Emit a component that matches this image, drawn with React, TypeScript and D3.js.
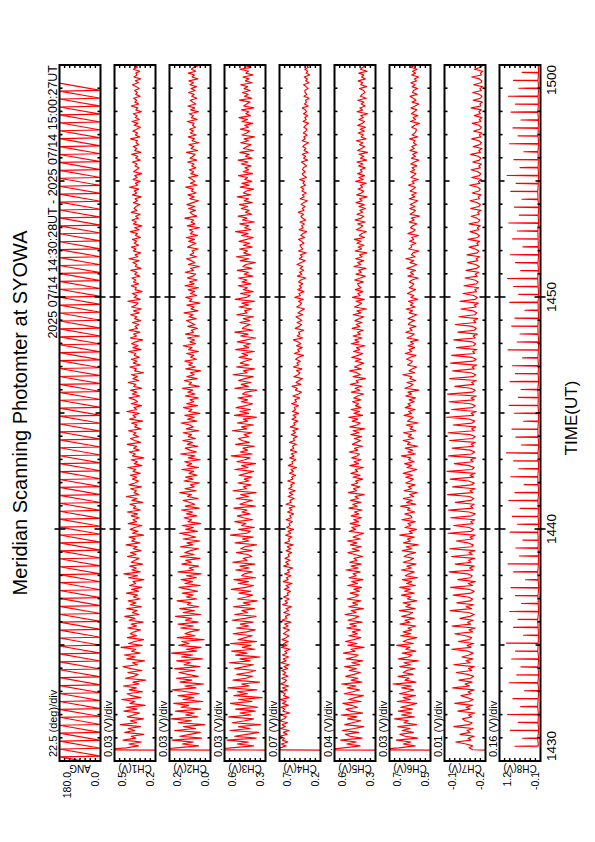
import React from 'react';
import * as d3 from 'd3';

const TITLE = 'Meridian Scanning Photomter at SYOWA';
const SUBTITLE = '2025 07/14 14:30:28UT - 2025 07/14 15:00:27UT';
const X_TITLE = 'TIME(UT)';

// time axis in minutes of day
const T_START = 870; // 14:30
const T_END = 900; // 15:00
const DATA_START = 870 + 28 / 60;
const SAMPLE_SEC = 5;
const SWEEP_SEC = 20.5;
const ANG_RISE_SEC = 18.5;

const timeTickValues = [870, 880, 890, 900];
const timeTickLabels = ['1430', '1440', '1450', '1500'];

const channelNames = ['ANG', 'CH1(V)', 'CH2(V)', 'CH3(V)', 'CH4(V)', 'CH5(V)', 'CH6(V)', 'CH7(V)', 'CH8(V)'];
const divLabels = ['22.5 (deg)/div', '0.03 (V)/div', '0.03 (V)/div', '0.03 (V)/div', '0.07 (V)/div', '0.04 (V)/div', '0.03 (V)/div', '0.01 (V)/div', '0.16 (V)/div'];
// domains: ANG in deg, channels in mV
const yLo = [0, 230, 0, 340, 170, 280, 480, -190, -80];
const yHi = [180, 470, 240, 580, 730, 600, 720, -110, 1200];
const yHiLabels = ['180.0', '0.5', '0.2', '0.6', '0.7', '0.6', '0.7', '-0.1', '1.2'];
const yLoLabels = ['0.0', '0.2', '0.0', '0.3', '0.2', '0.3', '0.5', '-0.2', '-0.1'];

// first two samples of each noise channel (mV)
const startA = [150, -80, 260, 90, 200, 400, -200];
const startB = [550, 320, 660, 810, 680, 800, -165];

// scan angle: start / end of each sweep
const ang = [
  0, 180, 0, 180, 0, 180, 0, 180, 0, 180, 0, 180, 0, 180, 0, 180, 0, 180, 0, 180,
  0, 180, 0, 180, 0, 180, 0, 180, 0, 180, 0, 180, 0, 180, 0, 180, 0, 180, 0, 180,
  0, 180, 0, 180, 0, 180, 0, 180, 0, 180, 0, 180, 0, 180, 0, 180, 0, 180, 0, 180,
  0, 180, 0, 180, 0, 180, 0, 180, 0, 180, 0, 180, 0, 180, 0, 180, 0, 180, 0, 180,
  0, 180, 0, 180, 0, 180, 0, 180, 0, 180, 0, 180, 0, 180, 0, 180, 0, 180, 0, 180,
  0, 180, 0, 180, 0, 180, 0, 180, 0, 180, 0, 180, 0, 180, 0, 180, 0, 180, 0, 180,
  0, 180, 0, 180, 0, 180, 0, 180, 0, 180, 0, 180, 0, 180, 0, 180, 0, 180, 0, 180,
  0, 180, 0, 180, 0, 180, 0, 180, 0, 180, 0, 180, 0, 180, 0, 180, 0, 180, 0, 180,
  0, 180, 0, 180, 0, 180, 0, 180, 0, 180, 0, 180,
];

const ch1 = [
  400, 330, 385, 312, 420, 345, 372, 298, 410, 352, 390, 318, 436, 340, 378, 300, 395, 360, 322, 415,
  338, 402, 290, 380, 350, 428, 315, 371, 396, 305, 384, 342, 418, 326, 362, 288, 406, 355, 332, 392,
  310, 375, 420, 336, 365, 294, 398, 348, 412, 320, 370, 345, 432, 308, 388, 352, 300, 395, 340, 378,
  355, 318, 392, 340, 372, 302, 385, 350, 410, 326, 366, 338, 398, 312, 378, 345, 390, 320, 360, 335,
  400, 328, 370, 310, 382, 346, 362, 298, 388, 335, 415, 320, 368, 342, 380, 306, 372, 350, 326, 394,
  344, 376, 315, 360, 338, 402, 322, 370, 348, 385, 300, 366, 332, 378, 352, 310, 390, 340, 362, 325,
  372, 335, 395, 318, 360, 345, 380, 305, 368, 338, 400, 328, 356, 342, 375, 312, 385, 350, 330, 365,
  340, 378, 320, 362, 345, 392, 310, 355, 336, 372, 298, 366, 348, 384, 325, 358, 340, 395, 318, 352,
  376, 330, 360, 344, 388, 315, 352, 338, 370, 305, 382, 346, 362, 325, 398, 340, 356, 312, 372, 335,
  350, 385, 322, 366, 340, 375, 310, 358, 345, 390, 328, 362, 336, 370, 300, 352, 342, 380, 318, 360,
  338, 372, 325, 355, 345, 388, 315, 362, 332, 370, 348, 305, 378, 340, 358, 322, 385, 336, 350, 328,
  365, 318, 352, 340, 375, 326, 358, 312, 370, 345, 332, 392, 320, 355, 338, 366, 308, 350, 342, 372,
  330, 358, 345, 368, 322, 352, 338, 375, 315, 348, 340, 362, 326, 385, 334, 350, 318, 360, 344, 370,
  328, 355, 340, 365, 318, 348, 336, 378, 325, 352, 310, 360, 342, 368, 330, 346, 320, 372, 338, 355,
  345, 322, 360, 336, 350, 314, 366, 340, 355, 328, 382, 334, 348, 320, 362, 338, 352, 310, 358, 342,
  326, 350, 338, 365, 320, 346, 334, 370, 316, 352, 340, 360, 328, 344, 336, 376, 322, 348, 335, 362,
  340, 318, 355, 332, 368, 325, 348, 338, 360, 312, 345, 334, 372, 328, 350, 340, 358, 320, 346, 336,
  352, 326, 342, 365, 330, 348, 318, 356, 338, 345, 322, 360, 336, 350, 328, 368, 334, 346, 325, 355,
];

const ch2 = [
  200, 70, 165, 100, 225, 52, 180, 120, 60, 210, 88, 158, 35, 190, 112, 230, 75, 146, 95, 205,
  58, 172, 128, 215, 45, 160, 98, 190, 66, 140, 222, 85, 150, 40, 178, 110, 200, 72, 132, 185,
  92, 210, 62, 155, 118, 198, 48, 170, 104, 228, 80, 142, 55, 186, 125, 168, 38, 195, 90, 150,
  120, 65, 175, 100, 190, 72, 148, 110, 205, 58, 160, 95, 180, 68, 135, 115, 196, 80, 142, 102,
  165, 75, 130, 185, 60, 150, 105, 172, 82, 140, 55, 190, 98, 125, 70, 168, 112, 146, 62, 178,
  96, 150, 118, 70, 176, 104, 138, 62, 160, 88, 128, 182, 76, 145, 100, 166, 58, 132, 110, 155,
  80, 140, 104, 170, 66, 148, 92, 125, 160, 72, 135, 112, 180, 84, 150, 96, 118, 64, 156, 102,
  145, 78, 126, 98, 168, 70, 138, 110, 152, 60, 130, 92, 175, 82, 120, 148, 74, 136, 106, 162,
  88, 130, 112, 160, 68, 142, 100, 122, 172, 80, 135, 95, 150, 62, 128, 108, 158, 76, 140, 98,
  120, 72, 148, 90, 132, 104, 165, 66, 126, 112, 154, 78, 138, 96, 118, 58, 145, 88, 128, 106,
  150, 82, 116, 98, 140, 70, 128, 108, 160, 86, 120, 94, 135, 64, 146, 100, 112, 76, 132, 92,
  118, 140, 84, 126, 102, 155, 74, 114, 96, 138, 62, 124, 108, 145, 80, 118, 92, 130, 70, 150,
  96, 122, 78, 136, 104, 88, 148, 100, 116, 66, 130, 92, 112, 140, 82, 120, 98, 108, 72, 134,
  110, 86, 128, 94, 142, 76, 118, 102, 124, 64, 136, 90, 114, 98, 150, 80, 106, 120, 88, 128,
  92, 138, 104, 70, 122, 96, 132, 84, 112, 100, 145, 78, 118, 92, 106, 128, 74, 116, 98, 124,
  86, 110, 96, 134, 80, 120, 102, 90, 140, 76, 114, 98, 126, 68, 108, 94, 130, 84, 118, 100,
  122, 88, 106, 96, 136, 78, 112, 100, 124, 70, 116, 92, 132, 86, 104, 118, 80, 110, 96, 128,
  90, 114, 82, 120, 100, 126, 74, 108, 94, 130, 86, 112, 98, 68, 118, 92, 124, 80, 104, 96,
];

const ch3 = [
  540, 410, 505, 440, 565, 395, 520, 450, 380, 548, 430, 498, 370, 535, 460, 410, 555, 425, 490, 400,
  515, 385, 470, 545, 420, 498, 360, 525, 445, 505, 390, 560, 435, 480, 375, 530, 455, 415, 508, 440,
  398, 520, 462, 410, 552, 430, 490, 372, 515, 448, 538, 402, 476, 425, 545, 392, 500, 458, 418, 530,
  450, 400, 510, 438, 488, 412, 535, 460, 395, 520, 445, 478, 405, 528, 430, 470, 388, 505, 452, 415,
  495, 425, 540, 455, 410, 500, 440, 525, 398, 480, 462, 418, 515, 435, 490, 402, 532, 448, 470, 420,
  445, 510, 420, 485, 460, 392, 518, 438, 475, 412, 545, 450, 428, 498, 405, 480, 455, 520, 415, 470,
  505, 430, 478, 448, 525, 400, 490, 458, 418, 512, 440, 485, 395, 530, 452, 470, 425, 502, 438, 465,
  420, 495, 452, 410, 520, 442, 480, 398, 508, 462, 430, 540, 418, 488, 445, 472, 405, 515, 435, 478,
  498, 440, 465, 420, 535, 450, 480, 410, 505, 445, 470, 392, 522, 438, 490, 428, 512, 455, 415, 482,
  445, 500, 418, 475, 455, 390, 520, 440, 482, 425, 498, 460, 412, 530, 448, 470, 405, 510, 436, 488,
  462, 420, 495, 445, 478, 405, 515, 438, 468, 428, 505, 450, 398, 485, 442, 520, 415, 475, 458, 430,
  490, 432, 470, 410, 508, 448, 462, 420, 495, 440, 478, 402, 518, 452, 430, 488, 412, 470, 446, 500,
  425, 478, 448, 498, 415, 465, 440, 505, 420, 472, 455, 400, 488, 438, 510, 428, 468, 445, 492, 418,
  470, 432, 495, 450, 412, 480, 442, 515, 425, 462, 438, 490, 405, 475, 448, 500, 420, 458, 436, 482,
  445, 492, 418, 465, 440, 505, 428, 470, 452, 410, 488, 435, 478, 420, 462, 445, 498, 415, 470, 438,
  460, 425, 482, 442, 500, 418, 458, 436, 490, 410, 470, 448, 425, 485, 440, 465, 405, 478, 450, 432,
  488, 440, 462, 415, 478, 445, 495, 428, 455, 438, 480, 408, 468, 450, 430, 492, 420, 462, 442, 475,
  430, 465, 445, 485, 418, 458, 438, 472, 412, 455, 440, 490, 425, 462, 448, 478, 415, 452, 436, 468,
];

const ch4 = [
  720, 640, 705, 615, 690, 660, 728, 625, 680, 600, 715, 650, 695, 620, 725, 668, 635, 710, 590, 685,
  655, 712, 610, 690, 640, 720, 598, 675, 650, 705, 625, 688, 605, 715, 660, 632, 700, 612, 682, 645,
  700, 620, 668, 598, 712, 640, 680, 605, 690, 630, 658, 585, 705, 625, 672, 610, 695, 640, 600, 676,
  640, 595, 682, 612, 660, 575, 698, 630, 650, 590, 672, 605, 640, 565, 688, 620, 655, 598, 675, 610,
  625, 580, 665, 600, 640, 558, 680, 612, 635, 572, 660, 595, 620, 550, 672, 605, 645, 585, 655, 598,
  612, 565, 640, 580, 625, 545, 660, 590, 608, 560, 648, 575, 615, 538, 632, 585, 600, 555, 640, 570,
  590, 538, 620, 560, 598, 520, 640, 572, 585, 530, 612, 552, 595, 515, 605, 560, 578, 525, 618, 548,
  565, 510, 595, 540, 572, 498, 610, 548, 560, 505, 588, 530, 570, 490, 582, 535, 555, 500, 592, 525,
  540, 488, 570, 512, 548, 475, 585, 520, 535, 480, 560, 505, 545, 468, 555, 510, 530, 472, 565, 498,
  520, 455, 548, 470, 430, 512, 488, 560, 440, 505, 462, 418, 535, 478, 450, 498, 425, 540, 468, 492,
  445, 510, 470, 402, 528, 458, 482, 420, 500, 438, 475, 540, 415, 488, 452, 470, 398, 515, 460, 430,
  490, 425, 462, 505, 412, 478, 440, 388, 495, 450, 428, 470, 405, 520, 445, 465, 395, 482, 430, 458,
  410, 470, 438, 372, 485, 425, 455, 400, 448, 415, 492, 432, 380, 460, 420, 445, 368, 470, 410, 435,
  452, 395, 430, 470, 385, 440, 412, 358, 462, 405, 428, 390, 450, 372, 418, 438, 400, 475, 395, 420,
  380, 435, 402, 350, 448, 392, 418, 365, 425, 398, 440, 375, 410, 388, 455, 360, 402, 420, 378, 415,
  405, 362, 392, 430, 348, 400, 375, 418, 340, 395, 370, 412, 385, 335, 420, 380, 398, 352, 405, 372,
  355, 398, 372, 330, 410, 365, 385, 345, 402, 360, 378, 418, 338, 390, 362, 375, 325, 395, 358, 380,
  385, 340, 368, 400, 328, 372, 350, 392, 318, 365, 345, 385, 335, 362, 310, 378, 348, 370, 330, 358,
];

const ch5 = [
  530, 400, 505, 430, 552, 385, 480, 515, 410, 540, 445, 372, 520, 460, 395, 498, 425, 548, 380, 475,
  510, 420, 468, 535, 392, 490, 440, 375, 525, 455, 405, 500, 432, 545, 388, 470, 418, 512, 448, 398,
  485, 430, 520, 402, 465, 380, 508, 445, 415, 530, 438, 472, 368, 495, 425, 515, 450, 395, 488, 420,
  462, 398, 505, 428, 480, 385, 495, 440, 410, 518, 432, 470, 375, 490, 420, 458, 395, 502, 438, 412,
  478, 405, 450, 388, 498, 420, 465, 378, 488, 430, 455, 400, 510, 415, 470, 392, 482, 425, 448, 382,
  440, 495, 408, 462, 390, 475, 425, 500, 398, 455, 418, 372, 485, 435, 465, 400, 478, 412, 450, 388,
  470, 410, 445, 385, 488, 422, 458, 395, 475, 415, 440, 368, 492, 428, 452, 402, 468, 418, 435, 380,
  455, 400, 472, 420, 438, 375, 480, 412, 448, 392, 465, 425, 405, 485, 418, 445, 382, 460, 428, 398,
  445, 388, 472, 410, 455, 365, 480, 425, 398, 462, 418, 490, 380, 448, 405, 470, 392, 438, 412, 460,
  395, 450, 420, 372, 468, 402, 440, 385, 475, 415, 430, 358, 455, 398, 425, 482, 390, 445, 408, 372,
  438, 392, 465, 415, 380, 452, 405, 428, 362, 470, 410, 440, 385, 455, 398, 420, 375, 462, 402, 430,
  385, 440, 408, 372, 455, 395, 425, 350, 445, 410, 388, 432, 368, 460, 400, 418, 378, 438, 392, 412,
  420, 375, 442, 398, 360, 432, 390, 412, 355, 448, 395, 420, 372, 435, 385, 405, 348, 440, 388, 415,
  370, 425, 392, 445, 365, 408, 385, 352, 430, 398, 378, 418, 360, 440, 392, 372, 425, 380, 402, 358,
  410, 368, 432, 385, 405, 345, 428, 390, 372, 415, 382, 398, 352, 435, 375, 410, 365, 420, 385, 398,
  360, 412, 378, 425, 350, 398, 372, 408, 342, 420, 388, 365, 405, 378, 430, 355, 392, 375, 415, 368,
  400, 358, 418, 382, 365, 410, 375, 395, 340, 425, 380, 402, 360, 392, 370, 418, 352, 398, 385, 362,
  372, 405, 350, 395, 380, 415, 358, 388, 372, 410, 345, 398, 378, 362, 420, 385, 355, 402, 375, 390,
];

const ch6 = [
  665, 570, 640, 595, 680, 555, 628, 660, 580, 645, 600, 672, 562, 635, 610, 690, 575, 650, 590, 668,
  585, 655, 605, 560, 675, 598, 640, 568, 662, 615, 578, 648, 592, 700, 565, 630, 605, 670, 582, 640,
  620, 572, 660, 598, 635, 552, 668, 610, 588, 645, 565, 625, 600, 678, 580, 640, 612, 560, 655, 595,
  640, 590, 612, 565, 658, 600, 630, 575, 648, 605, 585, 662, 570, 625, 598, 640, 560, 615, 595, 650,
  575, 632, 598, 660, 568, 620, 590, 645, 555, 628, 605, 575, 650, 592, 618, 565, 640, 600, 580, 635,
  610, 568, 645, 590, 622, 552, 638, 598, 615, 575, 660, 585, 605, 562, 630, 595, 612, 570, 648, 588,
  595, 630, 572, 615, 600, 655, 565, 620, 588, 640, 578, 602, 558, 635, 592, 610, 570, 625, 598, 580,
  625, 585, 640, 598, 560, 618, 590, 632, 575, 608, 595, 650, 568, 612, 585, 628, 555, 615, 600, 640,
  578, 610, 592, 638, 565, 600, 585, 622, 552, 615, 598, 580, 635, 590, 608, 570, 628, 595, 612, 575,
  605, 568, 625, 590, 612, 548, 630, 598, 582, 618, 565, 600, 590, 642, 572, 605, 588, 560, 615, 595,
  585, 620, 598, 565, 628, 590, 605, 572, 612, 580, 598, 552, 618, 592, 575, 625, 588, 602, 565, 610,
  600, 572, 612, 588, 560, 605, 585, 622, 570, 598, 582, 610, 555, 595, 578, 615, 592, 568, 605, 585,
  578, 605, 588, 552, 612, 580, 598, 568, 618, 585, 560, 600, 578, 625, 570, 592, 582, 548, 608, 590,
  595, 565, 602, 578, 590, 550, 612, 582, 570, 598, 585, 560, 605, 575, 592, 545, 600, 580, 568, 602,
  570, 598, 578, 555, 605, 572, 590, 562, 600, 580, 568, 610, 575, 588, 552, 595, 578, 565, 598, 572,
  588, 560, 595, 575, 548, 592, 568, 585, 558, 600, 575, 590, 562, 580, 570, 602, 555, 588, 572, 565,
  562, 590, 572, 545, 598, 568, 582, 555, 592, 575, 560, 595, 570, 548, 588, 565, 580, 600, 558, 585,
  580, 555, 588, 570, 595, 562, 575, 550, 590, 568, 585, 558, 598, 572, 560, 582, 552, 590, 575, 568,
];

const ch7 = [
  -158, -165, -152, -132, -162, -156, -168, -140, -160, -154, -166, -128, -158, -164, -150, -145, -163, -157, -169, -136,
  -160, -152, -165, -130, -158, -166, -154, -142, -162, -156, -168, -126, -159, -150, -164, -138, -161, -167, -155, -133,
  -163, -157, -168, -128, -160, -152, -165, -144, -158, -166, -156, -124, -162, -154, -167, -137, -159, -163, -151, -130,
  -165, -158, -170, -125, -161, -155, -166, -140, -160, -168, -157, -121, -163, -152, -167, -134, -160, -165, -156, -127,
  -162, -168, -158, -122, -165, -156, -170, -136, -161, -164, -155, -119, -166, -159, -168, -131, -162, -157, -169, -124,
  -164, -158, -169, -120, -163, -166, -156, -133, -165, -160, -170, -117, -162, -167, -158, -128, -166, -161, -169, -122,
  -163, -170, -158, -118, -166, -161, -168, -131, -162, -167, -159, -116, -165, -160, -170, -126, -163, -168, -157, -121,
  -167, -160, -170, -115, -164, -168, -158, -129, -166, -161, -171, -118, -163, -169, -160, -125, -167, -162, -170, -120,
  -165, -170, -160, -117, -168, -163, -171, -127, -164, -169, -159, -114, -167, -162, -172, -124, -165, -170, -161, -119,
  -168, -162, -172, -116, -165, -170, -161, -130, -167, -163, -172, -120, -166, -171, -162, -126, -168, -164, -173, -122,
  -166, -172, -163, -124, -169, -165, -173, -133, -167, -171, -164, -128, -170, -166, -174, -136, -168, -172, -165, -131,
  -171, -167, -175, -138, -169, -173, -166, -142, -172, -168, -176, -140, -170, -174, -167, -146, -173, -169, -177, -148,
  -172, -176, -169, -150, -174, -170, -177, -152, -173, -178, -171, -155, -175, -172, -179, -154, -174, -177, -170, -158,
  -176, -173, -179, -156, -175, -178, -172, -160, -177, -174, -180, -158, -176, -179, -173, -162, -178, -175, -181, -161,
  -177, -180, -174, -160, -178, -176, -181, -164, -177, -180, -175, -159, -179, -176, -182, -163, -178, -181, -175, -162,
  -180, -177, -182, -165, -178, -181, -176, -161, -180, -177, -183, -166, -179, -182, -177, -163, -181, -178, -183, -167,
  -179, -182, -177, -164, -181, -178, -183, -168, -180, -177, -182, -162, -181, -179, -184, -166, -180, -183, -178, -165,
  -182, -179, -184, -167, -181, -183, -178, -163, -182, -180, -185, -168, -181, -184, -179, -166, -183, -180, -185, -169,
];

const ch8Peaks = [
  720, 480, 860, 610, 950, 540, 780, 420, 900, 660,
  530, 820, 700, 980, 450, 760, 620, 880, 510, 700,
  840, 390, 760, 930, 580, 690, 470, 870, 640, 800,
  560, 910, 720, 430, 850, 600, 760, 980, 520, 690,
  810, 450, 740, 900, 610, 530, 870, 700, 800, 480,
  930, 650, 560, 820, 720, 410, 880, 600, 760, 950,
  540, 700, 860, 470, 790, 640, 910, 580, 730, 500,
  850, 680, 960, 560, 750, 440, 890, 620, 780, 530,
  840, 700, 920, 600, 760, 490, 870, 650,
];
const ch8Base = [
  -12, 4, -20, -5, -15, 6, -8, -25, 0, -18,
  -4, -22, 2, -10, -16, -6, 5, -20, -12, -2,
  -24, -8, 3, -14, -18, -4, -10, 2, -22, -6,
  -15, -1, -20, -9, 4, -17, -12, -3, -25, -7,
  1, -14, -19, -5, -11, 3, -21, -8, -16, 0,
  -13, -23, -6, 2, -18, -10, -4, -20, -7, 5,
  -15, -2, -22, -11, -6, 1, -17, -9, -24, -3,
  4, -12, -19, -7, -14, 0, -21, -5, -10, -16,
  2, -13, -8, -20, -4, -18, -11, 3,
];

const noiseSeries = [ch1, ch2, ch3, ch4, ch5, ch6, ch7];

const FONT = "'Liberation Sans', Arial, Helvetica, sans-serif";
const PLOT_X0 = 81;
const PLOT_X1 = 777;
const PANEL_TOP0 = 59.5;
const PANEL_STEP = 55;
const PANEL_H = 41;

export default function App() {
  const x = d3.scaleLinear().domain([T_START, T_END]).range([PLOT_X0, PLOT_X1]);
  const line = d3.line<[number, number]>();
  const minuteTicks = d3.range(T_START + 1, T_END);

  const panels = channelNames.map((name, k) => {
    const top = PANEL_TOP0 + PANEL_STEP * k;
    const bottom = top + PANEL_H;
    const y = d3.scaleLinear().domain([yLo[k], yHi[k]]).range([bottom, top]);
    let pts: [number, number][] = [];
    if (k === 0) {
      pts = ang.map((v, i) => {
        const sweep = Math.floor(i / 2);
        const sec = SWEEP_SEC * sweep + (i % 2 === 1 ? ANG_RISE_SEC : 0) - 8;
        return [x(T_START + sec / 60), y(v)];
      });
    } else if (k === 8) {
      ch8Peaks.forEach((p, i) => {
        const tc = DATA_START + (SWEEP_SEC * (i + 0.5)) / 60;
        pts.push([x(tc - 1 / 60), y(ch8Base[i])]);
        pts.push([x(tc), y(p)]);
        pts.push([x(tc + 1 / 60), y(ch8Base[i])]);
      });
    } else {
      const arr = noiseSeries[k - 1];
      pts.push([x(DATA_START), y(startA[k - 1])]);
      pts.push([x(DATA_START + 1 / 60), y(startB[k - 1])]);
      arr.forEach((v, i) => pts.push([x(DATA_START + (6 + SAMPLE_SEC * i) / 60), y(v)]));
    }
    const divTicks = d3.range(1, 8).map((j) => top + (j * PANEL_H) / 8);
    return (
      <g key={name}>
        <clipPath id={`clip${k}`}>
          <rect x={PLOT_X0} y={top} width={PLOT_X1 - PLOT_X0} height={PANEL_H} />
        </clipPath>
        <path d={line(pts) || ''} fill="none" stroke="#ff0000" strokeWidth={1.15}
          strokeLinejoin="round" clipPath={`url(#clip${k})`} />
        {minuteTicks.map((m) => {
          const len = m % 10 === 0 ? 6 : m % 5 === 0 ? 5 : 3;
          const out = m % 10 === 0 ? 5 : 0;
          const xx = x(m);
          return (
            <g key={m} stroke="#000" strokeWidth={1.6}>
              <line x1={xx} x2={xx} y1={top - out} y2={top + len} />
              <line x1={xx} x2={xx} y1={bottom + out} y2={bottom - len} />
            </g>
          );
        })}
        {divTicks.map((yy, j) => (
          <g key={j} stroke="#000" strokeWidth={1.4}>
            <line x1={PLOT_X0} x2={PLOT_X0 + 3} y1={yy} y2={yy} />
            <line x1={PLOT_X1} x2={PLOT_X1 - 3} y1={yy} y2={yy} />
          </g>
        ))}
        <rect x={PLOT_X0} y={top} width={PLOT_X1 - PLOT_X0} height={PANEL_H} fill="none" stroke="#000" strokeWidth={2} />
        <text x={PLOT_X0 + 4} y={top - 3} fontSize={11} fontFamily={FONT}>{divLabels[k]}</text>
        <text x={70} y={top + 11} fontSize={10.5} fontFamily={FONT} textAnchor="end">{yHiLabels[k]}</text>
        <text x={70} y={bottom - 1.5} fontSize={10.5} fontFamily={FONT} textAnchor="end">{yLoLabels[k]}</text>
        <text transform={`translate(77,${(top + bottom) / 2}) rotate(-90)`} fontSize={10} fontFamily={FONT} textAnchor="middle">{name}</text>
      </g>
    );
  });

  return (
    <svg width={595} height={842} style={{ position: 'absolute', left: 0, top: 0, background: '#fff' }}>
      <rect x={0} y={0} width={595} height={842} fill="#fff" />
      <g transform="translate(0,842) rotate(-90)">
        <text x={(PLOT_X0 + PLOT_X1) / 2} y={27} fontSize={20} fontFamily={FONT} textAnchor="middle">{TITLE}</text>
        <text x={PLOT_X1} y={57} fontSize={12.5} fontFamily={FONT} textAnchor="end">{SUBTITLE}</text>
        {panels}
        {timeTickValues.map((t, i) => (
          <text key={t} x={x(t)} y={556} fontSize={13.5} fontFamily={FONT}
            textAnchor={i === 0 ? 'start' : i === timeTickValues.length - 1 ? 'end' : 'middle'}>{timeTickLabels[i]}</text>
        ))}
        <text x={(PLOT_X0 + PLOT_X1) / 2 - 5} y={577} fontSize={17} fontFamily={FONT} textAnchor="middle">{X_TITLE}</text>
      </g>
    </svg>
  );
}
